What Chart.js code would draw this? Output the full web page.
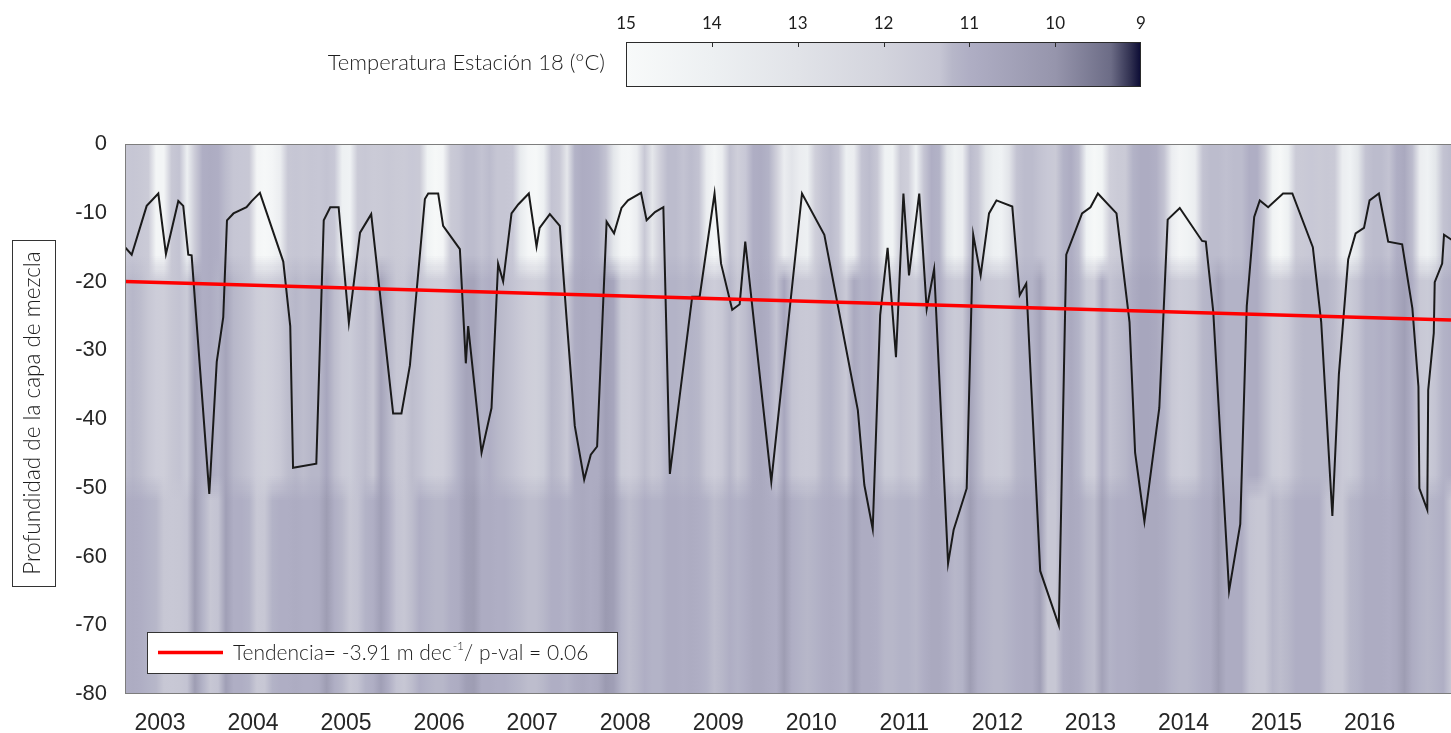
<!DOCTYPE html>
<html>
<head>
<meta charset="utf-8">
<script src="https://cdn.jsdelivr.net/npm/chart.js@4.4.1/dist/chart.umd.min.js"></script>
<style>
  html, body { margin: 0; padding: 0; background: #fff; overflow: hidden; }
  #wrap { position: relative; width: 1451px; height: 733px; }
  canvas { position: absolute; left: 0; top: 0; }
</style>
</head>
<body>
<div id="wrap">
  <canvas id="mainChart" width="1451" height="733"></canvas>
  <canvas id="barChart" width="1451" height="100"></canvas>
</div>
<script>
// Mixed layer depth (m) (decimal years)
const mldTime = [
  2002.624, 2002.696, 2002.857, 2002.982, 2003.064, 2003.197, 2003.250, 2003.304, 2003.340, 2003.530,
  2003.610, 2003.680, 2003.720, 2003.790, 2003.930, 2003.985, 2004.074, 2004.325, 2004.400, 2004.430,
  2004.680, 2004.760, 2004.830, 2004.920, 2005.030, 2005.150, 2005.270, 2005.506, 2005.595, 2005.686,
  2005.847, 2005.883, 2005.990, 2006.043, 2006.223, 2006.287, 2006.312, 2006.456, 2006.563, 2006.634,
  2006.688, 2006.778, 2006.850, 2006.964, 2007.047, 2007.080, 2007.190, 2007.297, 2007.370, 2007.458,
  2007.559, 2007.630, 2007.698, 2007.800, 2007.880, 2007.960, 2008.030, 2008.170, 2008.230, 2008.320,
  2008.410, 2008.480, 2008.720, 2008.800, 2008.960, 2009.030, 2009.150, 2009.230, 2009.290, 2009.570,
  2009.900, 2010.140, 2010.500, 2010.570, 2010.660, 2010.740, 2010.820, 2010.910, 2010.990, 2011.050,
  2011.160, 2011.240, 2011.320, 2011.470, 2011.530, 2011.670, 2011.740, 2011.820, 2011.910, 2011.990,
  2012.160, 2012.240, 2012.310, 2012.460, 2012.660, 2012.740, 2012.910, 2013.000, 2013.080, 2013.280,
  2013.420, 2013.480, 2013.580, 2013.740, 2013.830, 2013.960, 2014.200, 2014.240, 2014.320, 2014.490,
  2014.610, 2014.680, 2014.760, 2014.820, 2014.910, 2015.070, 2015.170, 2015.390, 2015.480, 2015.600,
  2015.670, 2015.770, 2015.850, 2015.940, 2016.000, 2016.100, 2016.200, 2016.350, 2016.460, 2016.525,
  2016.535, 2016.620, 2016.630, 2016.690, 2016.700, 2016.780, 2016.800, 2016.890
];
const mldDepth = [
  -15.0, -16.1, -9.0, -7.2, -16.0, -8.3, -9.0, -16.1, -16.2, -50.9,
  -31.7, -25.2, -11.1, -10.1, -9.2, -8.3, -7.1, -17.1, -26.5, -47.1,
  -46.5, -11.1, -9.2, -9.2, -26.0, -12.9, -10.2, -39.2, -39.2, -32.2,
  -8.0, -7.2, -7.2, -11.9, -15.3, -31.9, -26.5, -44.9, -38.4, -17.4,
  -20.0, -10.1, -8.8, -7.2, -14.9, -12.2, -10.2, -11.9, -25.4, -41.0,
  -48.8, -45.2, -44.0, -11.3, -13.0, -9.3, -8.2, -7.1, -11.1, -9.9,
  -9.2, -48.0, -22.2, -22.2, -7.2, -17.4, -24.1, -23.3, -14.2, -49.1,
  -7.2, -13.2, -38.7, -49.6, -56.0, -24.9, -15.1, -31.0, -7.2, -19.1,
  -7.2, -24.0, -18.2, -61.0, -56.1, -50.1, -13.2, -19.1, -10.1, -8.2,
  -9.1, -22.0, -20.3, -62.1, -70.0, -16.1, -10.1, -9.2, -7.2, -10.1,
  -25.9, -44.9, -54.9, -38.4, -11.0, -9.3, -14.1, -14.2, -24.4, -65.0,
  -55.3, -23.6, -10.6, -8.2, -9.2, -7.2, -7.2, -15.0, -25.9, -54.1,
  -33.5, -16.8, -13.0, -12.2, -8.2, -7.2, -14.2, -14.6, -23.9, -35.3,
  -50.1, -53.2, -35.8, -27.5, -20.1, -17.4, -13.2, -14.0
];

// Linear trend (red line)
const trendTime = [2002.624, 2016.875];
const trendDepth = [-20.0, -25.6];
const trendLabel = "Tendencia= -3.91 m dec";
const trendSup = "-1";
const trendTail = "/ p-val = 0.06";

// Temperature background: monthly columns, first column = Aug 2002
const tempFirstMonth = 2002 + 7.5 / 12;
const layerTop = [0, -18, -50];
const layerBottom = [-18, -50, -80];
const tempSurface = [
  11.43, 11.36, 11.43, 11.6, 14.5,
  14.5, 11.43, 11.32, 14.0, 11.6, 11.0, 10.9, 11.0, 11.25, 11.36, 11.39, 11.43,
  14.5, 14.8, 14.5, 13.8, 11.43, 11.36, 11.43, 11.36, 11.39, 11.32, 11.46, 14.0,
  14.2, 11.53, 11.43, 11.6, 11.53, 11.43, 11.53, 11.6, 11.46, 11.53, 14.3, 14.8,
  14.5, 11.53, 11.36, 11.25, 11.25, 11.32, 11.25, 11.36, 11.36, 11.46, 13.6, 14.6,
  14.8, 14.0, 11.32, 11.43, 13.3, 11.1, 10.9, 11.0, 11.1, 11.32, 13.2, 14.5,
  14.6, 13.8, 11.43, 13.3, 11.78, 11.25, 11.25, 11.32, 11.25, 11.32, 13.8, 14.6,
  13.8, 11.32, 11.78, 11.46, 11.0, 10.9, 11.1, 11.78, 13.8, 13.1, 13.8, 14.0,
  11.78, 11.32, 11.25, 11.39, 14.0, 13.8, 11.32, 11.25, 11.43, 14.2, 14.3, 11.53,
  11.78, 14.2, 11.36, 11.0, 11.1, 13.2, 14.3, 13.8, 11.25, 11.36, 13.2, 14.0,
  14.2, 13.1, 11.32, 11.25, 11.25, 11.32, 11.46, 11.53, 11.1, 10.9, 11.25, 14.2,
  14.8, 14.4, 11.78, 11.6, 11.53, 11.1, 10.9, 10.9, 11.05, 11.32, 13.8, 14.5,
  14.3, 13.8, 11.32, 11.25, 11.25, 11.29, 11.25, 11.25, 11.0, 11.0, 11.53, 14.3,
  14.8, 14.0, 11.6, 11.53, 11.46, 11.53, 11.43, 11.53, 13.8, 14.2, 13.2, 11.32,
  11.25, 11.25, 11.32, 11.0, 10.8, 11.25, 13.8, 14.2, 13.2, 11.32, 11.25
];
const tempMiddle = [
  11.26, 11.2, 11.26, 11.38, 11.68,
  11.74, 11.38, 11.32, 11.56, 10.5, 11.0, 10.9, 11.1, 10.6, 11.2, 11.26, 11.32,
  11.68, 11.8, 11.68, 11.44, 11.26, 11.2, 11.26, 11.2, 11.2, 10.7, 11.26, 11.5,
  11.62, 11.32, 11.26, 11.38, 10.6, 11.2, 11.38, 11.44, 11.26, 11.32, 11.62, 11.74,
  11.68, 11.32, 11.1, 10.6, 10.6, 11.1, 11.0, 11.2, 11.26, 11.32, 11.5, 11.74,
  11.8, 11.56, 11.2, 11.26, 11.44, 10.9, 10.8, 10.9, 10.9, 10.4, 10.7, 11.56,
  11.68, 11.44, 11.26, 11.38, 11.32, 11.1, 11.1, 11.2, 11.1, 11.2, 11.44, 11.68,
  11.44, 11.2, 11.38, 11.26, 10.9, 10.8, 11.0, 11.32, 10.7, 11.32, 11.44, 11.5,
  11.38, 11.2, 11.1, 11.26, 11.5, 10.8, 11.1, 11.0, 11.2, 11.56, 11.56, 11.32,
  11.38, 11.56, 11.2, 10.8, 10.9, 11.32, 11.56, 11.44, 10.6, 11.2, 11.38, 11.5,
  11.56, 11.38, 11.2, 11.1, 11.1, 10.6, 11.32, 11.38, 11.0, 10.8, 11.1, 11.56,
  11.74, 10.9, 11.32, 11.26, 11.2, 10.9, 10.7, 10.7, 10.8, 11.1, 11.44, 11.68,
  11.62, 11.44, 11.2, 11.1, 10.6, 11.1, 11.1, 11.1, 10.9, 10.9, 11.26, 11.62,
  11.74, 11.5, 11.26, 11.2, 11.2, 11.2, 11.2, 11.26, 11.5, 11.56, 11.32, 11.1,
  11.1, 11.0, 11.1, 10.8, 10.4, 11.0, 11.44, 11.56, 11.32, 11.1, 11.0
];
const tempDeep = [
  11.0, 10.9, 11.0, 11.1, 11.2,
  11.38, 11.44, 11.38, 11.32, 10.3, 11.1, 11.38, 11.32, 10.4, 11.0, 11.0, 11.1,
  11.44, 11.38, 11.1, 11.0, 11.0, 10.9, 11.0, 11.0, 10.9, 10.3, 11.0, 11.2,
  11.38, 11.32, 11.1, 11.0, 10.4, 11.0, 11.32, 11.38, 11.26, 11.0, 11.1, 11.2,
  11.2, 11.0, 10.9, 10.4, 10.3, 10.9, 10.9, 11.0, 11.0, 11.1, 11.2, 11.26,
  11.26, 11.2, 11.0, 11.0, 11.1, 10.9, 10.8, 10.9, 10.8, 10.2, 10.4, 11.1,
  11.26, 11.2, 11.0, 11.1, 11.1, 10.9, 10.9, 11.0, 10.9, 11.0, 11.1, 11.26,
  11.2, 11.0, 11.1, 11.0, 10.8, 10.8, 10.9, 11.0, 10.3, 11.0, 11.1, 11.2,
  11.1, 11.0, 10.9, 11.0, 11.1, 10.4, 10.9, 10.9, 11.0, 11.2, 11.2, 11.1,
  11.1, 11.2, 11.0, 10.8, 10.8, 11.0, 11.2, 11.1, 10.3, 11.0, 11.1, 11.2,
  11.2, 11.1, 11.0, 10.9, 10.9, 10.4, 11.38, 11.38, 10.9, 10.8, 10.9, 11.2,
  11.26, 10.5, 11.1, 11.0, 11.0, 10.9, 10.8, 10.8, 10.8, 10.9, 11.1, 11.2,
  11.2, 11.1, 11.0, 10.9, 10.3, 10.9, 10.9, 10.9, 11.32, 11.38, 11.38, 11.2,
  11.26, 11.2, 11.0, 11.0, 11.0, 11.0, 11.32, 11.38, 11.38, 11.2, 11.1, 10.9,
  10.9, 10.9, 11.0, 10.8, 10.3, 10.9, 11.1, 11.2, 11.1, 11.0, 11.38
];
const tempLayers = [tempSurface, tempMiddle, tempDeep];

// Axis ticks
const yearTicks = [2003, 2004, 2005, 2006, 2007, 2008, 2009, 2010, 2011, 2012, 2013, 2014, 2015, 2016];
const depthTicks = [0, -10, -20, -30, -40, -50, -60, -70, -80];
const cbarTicks = [15, 14, 13, 12, 11, 10, 9];

// Colormap used by both the background and the colorbar
const cmapTemp = [9.0, 9.12, 9.35, 10.0, 11.0, 11.2, 11.35, 12.0, 13.0, 14.0, 15.0];
const cmapRGB = [
  [10, 10, 52], [48, 48, 80], [108, 108, 134], [150, 149, 172], [175, 174, 196],
  [183, 183, 201], [198, 198, 212], [211, 212, 221], [225, 227, 232], [237, 240, 242], [248, 250, 250]
];

function tempColor(t) {
  if (t <= cmapTemp[0]) return "rgb(" + cmapRGB[0].join(",") + ")";
  for (let i = 1; i < cmapTemp.length; i++) {
    if (t <= cmapTemp[i]) {
      const f = (t - cmapTemp[i - 1]) / (cmapTemp[i] - cmapTemp[i - 1]);
      const c = cmapRGB[i - 1].map((v, k) => Math.round(v + f * (cmapRGB[i][k] - v)));
      return "rgb(" + c.join(",") + ")";
    }
  }
  return "rgb(" + cmapRGB[cmapRGB.length - 1].join(",") + ")";
}

const tickFont = { family: "'Liberation Sans', Arial, sans-serif", size: 23 };
const lightFont = "300 21px Lato, 'Open Sans', sans-serif";

// Paint the temperature field under the lines
const heatmapPlugin = {
  id: "heatmap",
  beforeDatasetsDraw(chart) {
    const { ctx, chartArea: a, scales: { x, y } } = chart;
    ctx.save();
    ctx.beginPath();
    ctx.rect(a.left, a.top, a.width, a.height);
    ctx.clip();
    const fills = tempLayers.map(vals => {
      const n = vals.length;
      const x0 = x.getPixelForValue(tempFirstMonth);
      const x1 = x.getPixelForValue(tempFirstMonth + (n - 1) / 12);
      const g = ctx.createLinearGradient(x0, 0, x1, 0);
      vals.forEach((t, i) => {
        const px = x.getPixelForValue(tempFirstMonth + i / 12);
        g.addColorStop(Math.min(1, Math.max(0, (px - x0) / (x1 - x0))), tempColor(t));
      });
      return g;
    });
    fills.forEach((g, k) => {
      const yt = Math.round(y.getPixelForValue(layerTop[k]));
      const yb = Math.round(y.getPixelForValue(layerBottom[k]));
      ctx.fillStyle = g;
      ctx.fillRect(a.left, yt, a.width, yb - yt);
    });
    // soften the layer seams a little
    const steps = 6;
    for (let k = 0; k < fills.length - 1; k++) {
      const yb = Math.round(y.getPixelForValue(layerBottom[k]));
      for (let s = 0; s < steps; s++) {
        ctx.globalAlpha = 0.5 * (1 - s / steps);
        ctx.fillStyle = fills[k];
        ctx.fillRect(a.left, yb + s * 2, a.width, 2);
        ctx.fillStyle = fills[k + 1];
        ctx.fillRect(a.left, yb - (s + 1) * 2, a.width, 2);
      }
    }
    ctx.restore();
  }
};

// Frame, y title box and legend box
const decorPlugin = {
  id: "decor",
  afterDraw(chart) {
    const { ctx, chartArea: a } = chart;
    ctx.save();
    ctx.strokeStyle = "#7d7d7d";
    ctx.lineWidth = 1;
    ctx.strokeRect(a.left + 0.5, a.top + 0.5, a.width + 5, a.height - 1);

    // y title
    ctx.strokeStyle = "#333";
    ctx.fillStyle = "#fff";
    ctx.fillRect(12, 240, 43, 346);
    ctx.strokeRect(12.5, 240.5, 43, 346);
    ctx.fillStyle = "#1e1e1e";
    ctx.font = "300 22.5px Lato, 'Open Sans', sans-serif";
    ctx.textAlign = "center";
    ctx.textBaseline = "middle";
    ctx.translate(33, 413);
    ctx.rotate(-Math.PI / 2);
    ctx.fillText("Profundidad de la capa de mezcla", 0, 0);
    ctx.setTransform(1, 0, 0, 1, 0, 0);

    // legend
    ctx.fillStyle = "#fff";
    ctx.fillRect(147, 632, 470, 41);
    ctx.strokeStyle = "#333";
    ctx.strokeRect(147.5, 632.5, 470, 41);
    ctx.strokeStyle = "#ff0000";
    ctx.lineWidth = 3.5;
    ctx.beginPath();
    ctx.moveTo(158, 652.5);
    ctx.lineTo(223, 652.5);
    ctx.stroke();
    ctx.fillStyle = "#1e1e1e";
    ctx.textAlign = "left";
    ctx.textBaseline = "middle";
    ctx.font = lightFont;
    let tx = 233;
    ctx.fillText(trendLabel, tx, 653);
    tx += ctx.measureText(trendLabel).width;
    ctx.font = "300 12px Lato, 'Open Sans', sans-serif";
    ctx.fillText(trendSup, tx + 1, 646);
    tx += ctx.measureText(trendSup).width + 1;
    ctx.font = lightFont;
    ctx.fillText(trendTail, tx, 653);
    ctx.restore();
  }
};

new Chart(document.getElementById("mainChart"), {
  type: "line",
  data: {
    datasets: [
      {
        label: "Tendencia",
        data: trendTime.map((t, i) => ({ x: t, y: trendDepth[i] })),
        borderColor: "#ff0000",
        borderWidth: 3.5,
        pointRadius: 0,
        order: 0
      },
      {
        label: "Capa de mezcla",
        data: mldTime.map((t, i) => ({ x: t, y: mldDepth[i] })),
        borderColor: "#1a1a1a",
        borderWidth: 2,
        pointRadius: 0,
        tension: 0,
        order: 1
      }
    ]
  },
  options: {
    responsive: false,
    animation: false,
    layout: { padding: { left: 0, right: 0, top: 144, bottom: 0 } },
    scales: {
      x: {
        type: "linear",
        min: 2002.624,
        max: 2016.875,
        afterBuildTicks: s => { s.ticks = yearTicks.map(v => ({ value: v })); },
        afterFit: s => { s.height = 39; },
        ticks: { font: tickFont, color: "#262626", padding: 8, maxRotation: 0, autoSkip: false, callback: v => String(v) },
        grid: { display: false },
        border: { display: false }
      },
      y: {
        min: -80,
        max: 0,
        afterBuildTicks: s => { s.ticks = depthTicks.map(v => ({ value: v })); },
        afterFit: s => { s.width = 125; },
        ticks: { font: { family: tickFont.family, size: 22 }, color: "#262626", padding: 10 },
        grid: { display: false },
        border: { display: false }
      }
    },
    plugins: { legend: { display: false }, tooltip: { enabled: false } }
  },
  plugins: [heatmapPlugin, decorPlugin]
});

// Colorbar
const colorbarPlugin = {
  id: "colorbar",
  beforeDatasetsDraw(chart) {
    const { ctx, chartArea: a, scales: { x } } = chart;
    ctx.save();
    const xl = x.getPixelForValue(15), xr = x.getPixelForValue(9);
    const g = ctx.createLinearGradient(xl, 0, xr, 0);
    cmapTemp.forEach((t, i) => {
      g.addColorStop((x.getPixelForValue(t) - xl) / (xr - xl), "rgb(" + cmapRGB[i].join(",") + ")");
    });
    ctx.fillStyle = g;
    ctx.fillRect(a.left, a.top, a.width, a.height);
    ctx.strokeStyle = "#2b2b2b";
    ctx.lineWidth = 1;
    ctx.strokeRect(a.left + 0.5, a.top + 0.5, a.width - 1, a.height - 1);
    ctx.beginPath();
    cbarTicks.slice(1, -1).forEach(v => {
      const px = Math.round(x.getPixelForValue(v)) + 0.5;
      ctx.moveTo(px, a.top);
      ctx.lineTo(px, a.top + 5);
    });
    ctx.stroke();
    ctx.fillStyle = "#1e1e1e";
    ctx.font = "300 22px Lato, 'Open Sans', sans-serif";
    ctx.textAlign = "right";
    ctx.textBaseline = "middle";
    ctx.fillText("Temperatura Estación 18 (°C)", 605, 63);
    ctx.restore();
  }
};

new Chart(document.getElementById("barChart"), {
  type: "line",
  data: { datasets: [] },
  options: {
    responsive: false,
    animation: false,
    layout: { padding: { left: 626, right: 310, top: 0, bottom: 13 } },
    scales: {
      x: {
        type: "linear",
        position: "top",
        reverse: true,
        min: 9,
        max: 15,
        afterBuildTicks: s => { s.ticks = cbarTicks.map(v => ({ value: v })); },
        afterFit: s => { s.height = 42; },
        ticks: { font: { family: "Lato, 'Open Sans', sans-serif", size: 17 }, color: "#1e1e1e", padding: 0, maxRotation: 0 },
        grid: { display: false },
        border: { display: false }
      },
      y: { display: false, min: 0, max: 1 }
    },
    plugins: { legend: { display: false }, tooltip: { enabled: false } }
  },
  plugins: [colorbarPlugin]
});
</script>
</body>
</html>
